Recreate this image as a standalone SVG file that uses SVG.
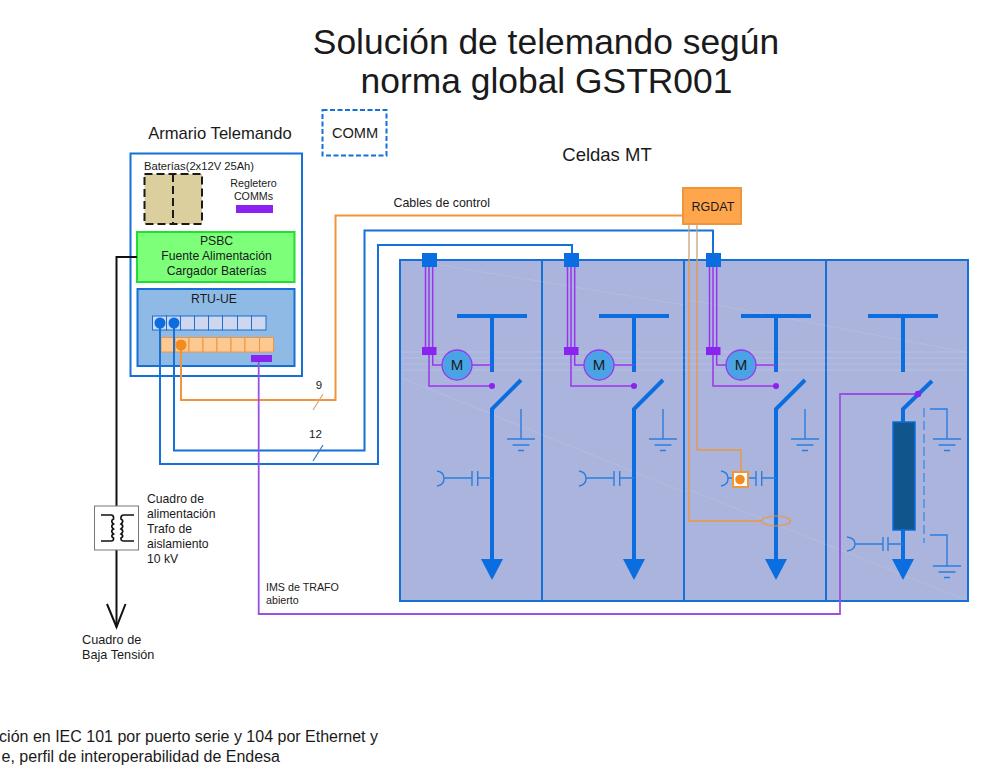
<svg xmlns="http://www.w3.org/2000/svg" xmlns:xlink="http://www.w3.org/1999/xlink" width="987" height="765" viewBox="0 0 987 765">
<style>
text{font-family:"Liberation Sans",Arial,sans-serif;fill:#1a1a1a}
.c{text-anchor:middle}
.f{fill:none}
.bw{fill:none;stroke:#1570d8;stroke-width:2}
.bus{fill:none;stroke:#0a6ee0;stroke-width:4}
.thin{fill:none;stroke:#2a7de0;stroke-width:1.4}
.pur{fill:none;stroke:#9a35ee;stroke-width:1.5}
.org{fill:none;stroke:#f0963a;stroke-width:1.3}
.tan{fill:none;stroke:#c9a47e;stroke-width:1.3}
.tip{fill:#0a6ee0}
.sq{fill:#0a6ee0}
.pb{fill:#8a22f0}
.cell{fill:#d0d6ee;stroke:#1570d8;stroke-width:1}
.ocell{fill:#fdc992;stroke:#f0963a;stroke-width:1}
</style>
<defs>
<g id="earth"><path class="thin" d="M-14 0H14M-8.500 6H8.500M-3 11.500H3"/></g>
<g id="bay">
<path class="bus" d="M457 316H527"/><path class="bus" d="M492 316V372"/>
<path class="bus" d="M521 380L492 409V562"/>
<path class="tip" d="M481 559H503L492 580Z"/>
<path class="thin" d="M521 409V439"/><use xlink:href="#earth" x="521" y="439"/>
<path class="thin" d="M492 478H477.700M477.700 471V486M472 471V486M472 478H443.500M437 471Q444 472 444 478.500Q444 485 437 486"/>
<path class="pur" d="M425.500 267V347M429 267V347M432.700 267V347"/>
<rect class="sq" x="422" y="253" width="15" height="14"/>
<rect class="pb" x="422" y="347" width="14.500" height="8"/>
<path class="pur" d="M432.700 355V365H442M472 365H492"/>
<path class="pur" d="M429 355V386H492"/>
<circle class="pb" cx="492" cy="386" r="3"/>
<circle cx="457" cy="365" r="15" fill="#4aa3e4" stroke="#9a35ee" stroke-width="1.300"/>
<text class="c" x="457" y="370" font-size="15">M</text>
</g>
</defs>
<rect width="987" height="765" fill="#fff"/>

<g id="title">
<text class="c" x="546" y="54" font-size="35.400">Solución de telemando según</text>
<text class="c" x="546.500" y="93" font-size="35.400">norma global GSTR001</text>
</g>

<g id="celdas">
<rect x="400" y="260" width="568" height="341" fill="#aab4dc" stroke="#1570d8" stroke-width="2"/>
<path d="M542 260V601M684 260V601M826 260V601" fill="none" stroke="#1570d8" stroke-width="2"/>
<path d="M402 352H966M402 358H966M402 364H966M402 370H966" fill="none" stroke="#fff" stroke-opacity=".1" stroke-width="1.500"/>
<path d="M402 378L684 492M440 265L684 305M690 300L966 352M690 490L966 600" fill="none" stroke="#fff" stroke-opacity=".12" stroke-width="1"/>
<text class="c" x="607" y="161" font-size="18.500">Celdas MT</text>
</g>
<g id="bay1"><use xlink:href="#bay"/></g>
<g id="bay2"><use xlink:href="#bay" x="142"/></g>
<g id="bay3"><use xlink:href="#bay" x="284"/></g>

<g id="bay4">
<path class="bus" d="M868 316H938"/><path class="bus" d="M903 316V372"/>
<path class="bus" d="M932 381L903 409V424"/><path class="bus" d="M903 528V562"/>
<rect x="893" y="422" width="22" height="108" fill="#10558c" stroke="#0a6ee0" stroke-width="1.500"/>
<path class="tip" d="M892 559H914L903 580Z"/>
<path d="M924 408V543" fill="none" stroke="#4a8fe0" stroke-width="1.500" stroke-dasharray="9 4"/>
<path class="thin" d="M930 409H947V439"/><use xlink:href="#earth" x="947" y="439"/>
<path class="thin" d="M930 535H947V566"/><use xlink:href="#earth" x="947" y="566"/>
<path class="thin" d="M903 544H888M888 537V551M883 537V551M883 544H855M847 537Q855 538 855 544Q855 550 847 551"/>
</g>

<g id="armario">
<text class="c" x="220" y="138.500" font-size="16.600">Armario Telemando</text>
<rect x="130.500" y="153.500" width="171.500" height="222.500" fill="#fff" stroke="#1570d8" stroke-width="2"/>
</g>
<g id="comm">
<rect x="322.500" y="110" width="64" height="45.500" fill="#fff" stroke="#1570d8" stroke-width="2" stroke-dasharray="5 2.500"/>
<text class="c" x="355" y="138" font-size="14.600">COMM</text>
</g>
<g id="baterias">
<text x="144" y="170" font-size="11.200">Baterías(2x12V 25Ah)</text>
<rect x="144.500" y="174" width="57.500" height="50" fill="#dccf9e" stroke="#1a1a1a" stroke-width="2" stroke-dasharray="8 4"/>
<path d="M173 174V224" stroke="#1a1a1a" stroke-width="2" stroke-dasharray="8 4" fill="none"/>
</g>
<g id="regletero">
<text class="c" x="253.500" y="187" font-size="10.700">Regletero</text>
<text class="c" x="253.500" y="200" font-size="10.700">COMMs</text>
<rect x="236" y="205" width="37" height="8" fill="#8a22f0"/>
</g>
<g id="psbc">
<rect x="137" y="232" width="157.500" height="50" fill="#7dff7a" stroke="#22dd33" stroke-width="2"/>
<text class="c" x="216.500" y="245" font-size="12.200">PSBC</text>
<text class="c" x="216.500" y="260" font-size="12.200">Fuente Alimentación</text>
<text class="c" x="216.500" y="275" font-size="12.200">Cargador Baterías</text>
</g>
<g id="rtu">
<rect x="137.500" y="289" width="157" height="77" fill="#8fbae6" stroke="#1570d8" stroke-width="2"/>
<text class="c" x="214" y="303" font-size="12.200">RTU-UE</text>
<rect class="cell" x="152.500" y="316" width="14" height="14"/><rect class="cell" x="166.500" y="316" width="14" height="14"/><rect class="cell" x="180.500" y="316" width="14" height="14"/><rect class="cell" x="194.500" y="316" width="14" height="14"/><rect class="cell" x="208.500" y="316" width="14" height="14"/><rect class="cell" x="222.500" y="316" width="15" height="14"/><rect class="cell" x="237.500" y="316" width="14" height="14"/><rect class="cell" x="251.500" y="316" width="14.500" height="14"/>
<rect class="ocell" x="161" y="337.500" width="14" height="14.500" stroke="none"/><rect class="ocell" x="175" y="337.500" width="14" height="14.500"/><rect class="ocell" x="189" y="337.500" width="14" height="14.500"/><rect class="ocell" x="203" y="337.500" width="14" height="14.500"/><rect class="ocell" x="217" y="337.500" width="14" height="14.500"/><rect class="ocell" x="231" y="337.500" width="14" height="14.500"/><rect class="ocell" x="245" y="337.500" width="14.500" height="14.500"/><rect class="ocell" x="259.500" y="337.500" width="14" height="14.500"/>
<rect x="251" y="355" width="21" height="7" fill="#8a22f0"/>
</g>
<g id="rgdat">
<rect x="683" y="188" width="58" height="36" fill="#ffa64d" stroke="#f0963a" stroke-width="2"/>
<text class="c" x="713" y="211" font-size="12.500">RGDAT</text>
</g>

<g id="connectors">
<path class="bw" d="M174 323V450.500H364.500V230.500H713V253"/>
<path class="bw" d="M160 323V464H378V245H572V253"/>
<path d="M181 345V400H335.500V215.500H683" fill="none" stroke="#f0963a" stroke-width="2"/>
<path d="M258.700 362V614H840V394H918" fill="none" stroke="#9a50e0" stroke-width="1.800"/>
<path d="M137 257H116.500V627" fill="none" stroke="#111" stroke-width="2"/>
<path d="M107 604L116.500 627L125.500 604" fill="none" stroke="#111" stroke-width="2"/>
<path class="tan" d="M689 224V261M697 224V261"/>
<path class="org" d="M689 261V521H762"/>
<path class="org" d="M697 261V450H741V472"/>
<path d="M313 410L323 394" stroke="#d8a878" stroke-width="1.200" fill="none"/>
<path d="M313 461L323 445" stroke="#3a78c8" stroke-width="1.200" fill="none"/>
</g>
<g id="dots">
<circle cx="160" cy="323" r="5.500" fill="#0a6ee0"/><circle cx="174" cy="323" r="5.500" fill="#0a6ee0"/>
<circle cx="181" cy="345" r="5.500" fill="#f58a1f"/>
<circle cx="918" cy="394" r="3.200" fill="#8a22f0"/>
<ellipse cx="776" cy="521" rx="14.500" ry="5" fill="none" stroke="#f0963a" stroke-width="1.200"/>
<rect x="733" y="472" width="15" height="15" fill="#fff" stroke="#f0963a" stroke-width="2"/>
<circle cx="740" cy="479.500" r="4.800" fill="#f58a1f"/>
</g>

<g id="trafo">
<rect x="94.500" y="506" width="44" height="44" fill="#fff" stroke="#777" stroke-width="1"/>
<path d="M101 515H111Q114 515 113.500 519Q110 521 113.500 524Q110 526 113.500 529Q110 531 113.500 534Q110 536 113.500 538Q114 541 111 541H101" fill="none" stroke="#111" stroke-width="1.700"/>
<path d="M134 515H124Q120.500 515 121 519Q124.500 521 121 524Q124.500 526 121 529Q124.500 531 121 534Q124.500 536 121 538Q120.500 541 124 541H134" fill="none" stroke="#111" stroke-width="1.700"/>
</g>

<g id="labels">
<text x="393.500" y="207" font-size="12.400">Cables de control</text>
<text class="c" x="319" y="389" font-size="11.500">9</text>
<text class="c" x="315.500" y="438" font-size="11.500">12</text>
<text x="147" y="503" font-size="12.200">Cuadro de</text>
<text x="147" y="518" font-size="12.200">alimentación</text>
<text x="147" y="533" font-size="12.200">Trafo de</text>
<text x="147" y="548" font-size="12.200">aislamiento</text>
<text x="147" y="563" font-size="12.200">10 kV</text>
<text x="82" y="644" font-size="12.700">Cuadro de</text>
<text x="82" y="659" font-size="12.700">Baja Tensión</text>
<text x="266" y="591" font-size="10.700">IMS de TRAFO</text>
<text x="266" y="604" font-size="10.700">abierto</text>
<text x="378" y="742" font-size="16" text-anchor="end">ción en IEC 101 por puerto serie y 104 por Ethernet y</text>
<text x="280" y="762" font-size="16" text-anchor="end">e, perfil de interoperabilidad de Endesa</text>
</g>
</svg>
